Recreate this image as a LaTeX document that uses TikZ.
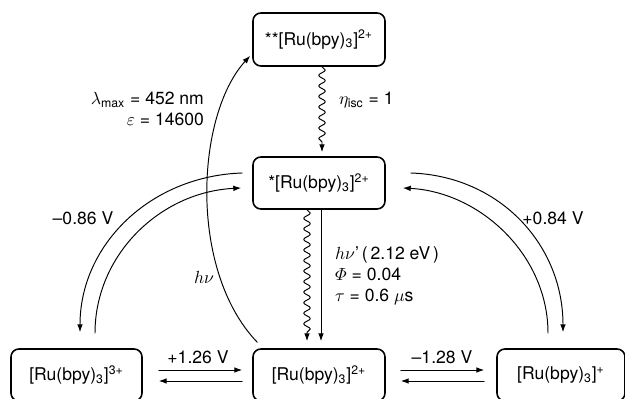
\documentclass[tikz,border=0pt]{standalone}
\usepackage{amsmath}
\usepackage{fontspec}
\setmainfont{TeX Gyre Heros}
\usepackage{tikz}
\usetikzlibrary{arrows.meta, positioning, calc, decorations.pathmorphing}

\newcommand{\rubpy}[1]{[Ru(bpy)\textsubscript{3}]\textsuperscript{#1}}

\begin{document}
\begin{tikzpicture}[>={Latex[length=4.5pt,width=3.2pt]}, line cap=round, line join=round, scale=1.0,
    cplx/.style={draw, line width=0.9pt, rounded corners=4.5pt, minimum height=1.04cm, inner sep=2pt},
    conn/.style={->, line width=0.55pt},
    wavy/.style={->, line width=0.55pt, decorate,
        decoration={snake, amplitude=1.9pt, segment length=6pt, post length=4pt}},
    lbl/.style={inner sep=1pt}]
    \fontsize{10}{12}\selectfont
    \useasboundingbox (0,0) rectangle (12.5,7.98);

    % Complexes
    \node[cplx, minimum width=2.64cm, minimum height=1.06cm] (exc2) at (6.38,7.19) {**\rubpy{2+}};
    \node[cplx, minimum width=2.64cm] (exc) at (6.38,4.32) {*\rubpy{2+}};
    \node[cplx, minimum width=2.62cm] (ox) at (1.53,0.48) {\rubpy{3+}};
    \node[cplx, minimum width=2.64cm] (gnd) at (6.38,0.48) {\rubpy{2+}};
    \node[cplx, minimum width=2.56cm] (red) at (11.22,0.48) {\rubpy{+}};

    % Absorption and intersystem crossing
    \draw[conn] ($(gnd.north west)+(0.1,0.12)$) .. controls (3.76,2.58) and (3.92,5.68) .. ($(exc2.south west)+(-0.04,0.22)$);
    \draw[wavy] ($(exc2.south)+(0.06,0)$) -- ($(exc.north)+(0.06,0.08)$);
    \node[lbl, anchor=east, align=right] (abs) at (4.12,5.8) {$\lambda_{\text{max}}$ = 452 nm\\$\varepsilon$ = 14600};
    \node[lbl] (hnu) at (4.08,2.44) {$h\nu$};
    \node[lbl, anchor=west] (isc) at (6.74,5.98) {$\eta_{\text{isc}}$ = 1};

    % Decay of the excited state
    \draw[wavy] ($(exc.south)+(-0.24,0)$) -- ($(gnd.north)+(-0.24,0.14)$);
    \draw[conn] ($(exc.south)+(0.04,0)$) -- ($(gnd.north)+(0.04,0.14)$);
    \node[lbl, anchor=west, align=left] (emis) at (6.66,2.46) {$h\nu$'\,(\,2.12 eV\,)\\$\varPhi$ = 0.04\\$\tau$ = 0.6 $\mu$s};

    % Excited state redox
    \draw[conn] ($(exc.west)+(-0.2,0.2)$) .. controls (3.0,4.46) and (1.6,3.08) .. ($(ox.north)+(0.07,0.32)$);
    \draw[conn] ($(ox.north)+(0.37,0.3)$) .. controls (1.9,2.88) and (3.2,4.14) .. ($(exc.west)+(-0.22,-0.1)$);
    \node[lbl] (eox) at (1.66,3.62) {--0.86 V};

    \draw[conn] ($(exc.east)+(0.5,0.2)$) .. controls (10.0,4.46) and (11.26,3.08) .. ($(red.north)+(0.04,0.32)$);
    \draw[conn] ($(red.north)+(-0.26,0.3)$) .. controls (10.96,2.88) and (9.6,4.14) .. ($(exc.east)+(0.34,-0.1)$);
    \node[lbl] (ered) at (11.06,3.62) {+0.84 V};

    % Ground state redox
    \draw[conn] ($(ox.east)+(0.32,0.1)$) -- ($(gnd.west)+(-0.2,0.1)$);
    \draw[conn] ($(gnd.west)+(-0.2,-0.12)$) -- ($(ox.east)+(0.32,-0.12)$);
    \node[lbl] (gox) at (3.96,0.84) {+1.26 V};

    \draw[conn] ($(gnd.east)+(0.3,0.1)$) -- ($(red.west)+(-0.24,0.1)$);
    \draw[conn] ($(red.west)+(-0.24,-0.12)$) -- ($(gnd.east)+(0.3,-0.12)$);
    \node[lbl] (gred) at (8.84,0.84) {--1.28 V};

\end{tikzpicture}
\end{document}
